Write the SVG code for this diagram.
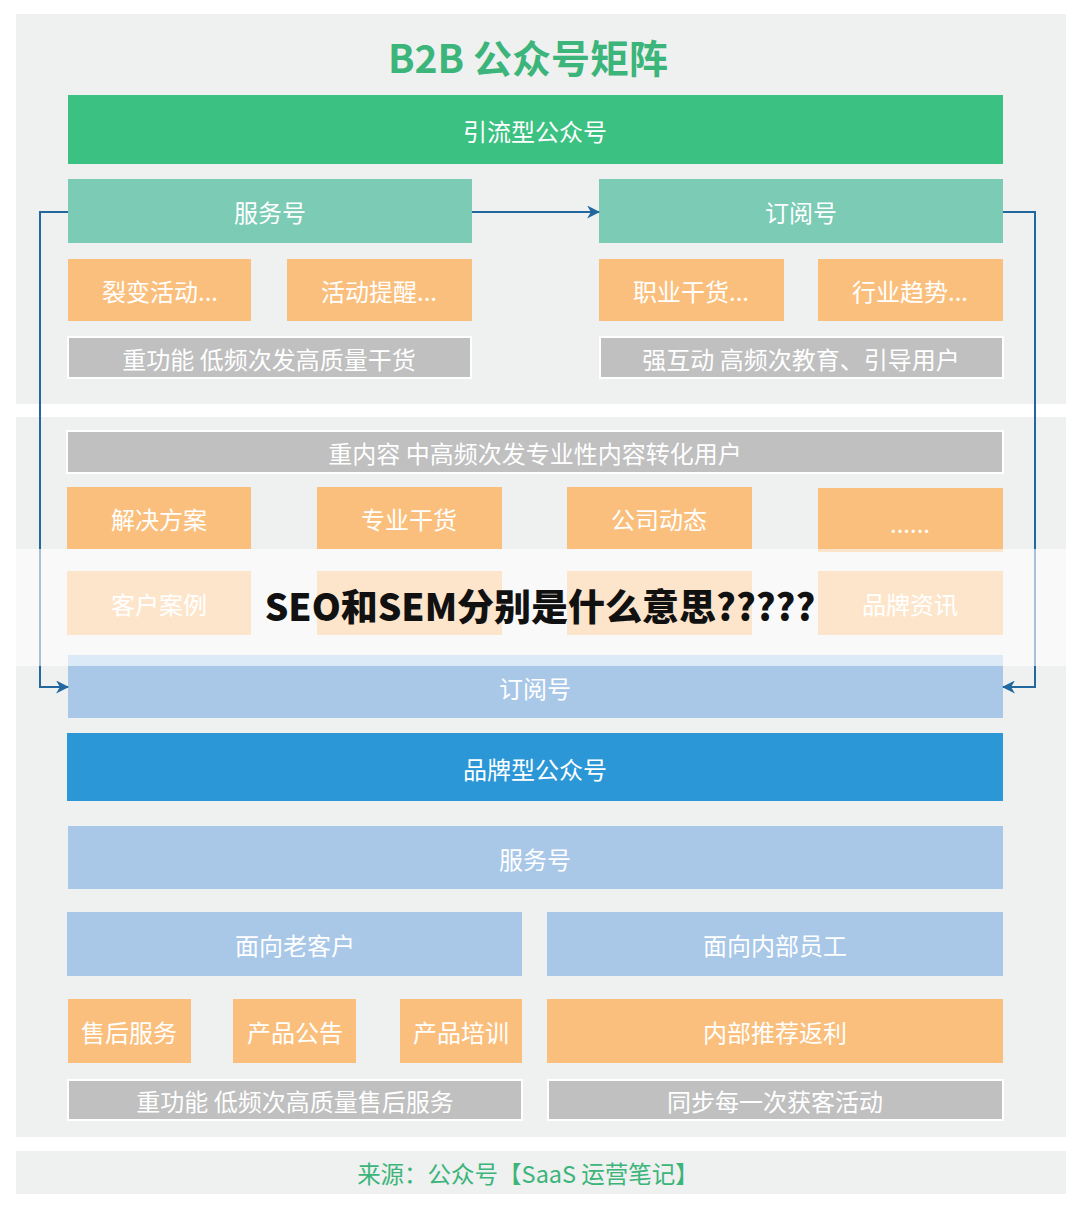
<svg xmlns="http://www.w3.org/2000/svg" width="1080" height="1215" viewBox="0 0 1080 1215">
<defs>
<marker id="arr" viewBox="0 0 12 12" refX="11" refY="6" markerWidth="13" markerHeight="13" markerUnits="userSpaceOnUse" orient="auto">
<path d="M0,0 L12,6 L0,12 L3.5,6 Z" fill="#23679f"/>
</marker>
<style>
text{font-family:"Noto Sans CJK SC","Noto Sans",sans-serif;text-anchor:middle;dominant-baseline:central}
.lbl{fill:#ffffff;font-size:24px}
.green{fill:#3bc182}
.teal{fill:#7bcbb5}
.orange{fill:#fbbf7d}
.gray{fill:#c0c0c0;stroke:#ffffff;stroke-width:2}
.lblue{fill:#a9c8e8}
.blue{fill:#2b97d6}
.panel{fill:#eff0f0}
.conn{fill:none;stroke:#23679f;stroke-width:2}
</style>
</defs>
<rect width="1080" height="1215" fill="#ffffff"/>
<rect class="panel" x="16" y="14" width="1050" height="390"/>
<rect class="panel" x="16" y="417" width="1050" height="720"/>
<rect class="panel" x="16" y="1151" width="1050" height="43"/>
<text x="528" y="56" style="font-size:39px;font-weight:bold;fill:#3bb57a">B2B 公众号矩阵</text>

<g id="n-yinliu"><rect class="green" x="68" y="95" width="935" height="69"/><text class="lbl" x="535" y="130">引流型公众号</text></g>
<g id="n-fuwu1"><rect class="teal" x="68" y="179" width="404" height="64"/><text class="lbl" x="270" y="211">服务号</text></g>
<g id="n-dingyue1"><rect class="teal" x="599" y="179" width="404" height="64"/><text class="lbl" x="801" y="211">订阅号</text></g>
<g id="n-liebian"><rect class="orange" x="68" y="259" width="183" height="62"/><text class="lbl" x="160" y="290">裂变活动...</text></g>
<g id="n-tixing"><rect class="orange" x="287" y="259" width="185" height="62"/><text class="lbl" x="379" y="290">活动提醒...</text></g>
<g id="n-zhiye"><rect class="orange" x="599" y="259" width="185" height="62"/><text class="lbl" x="691" y="290">职业干货...</text></g>
<g id="n-hangye"><rect class="orange" x="818" y="259" width="185" height="62"/><text class="lbl" x="910" y="290">行业趋势...</text></g>
<g id="n-g1"><rect class="gray" x="68" y="337" width="403" height="41"/><text class="lbl" x="269" y="358">重功能 低频次发高质量干货</text></g>
<g id="n-g2"><rect class="gray" x="600" y="337" width="403" height="41"/><text class="lbl" x="801" y="358">强互动 高频次教育、引导用户</text></g>

<g id="n-g3"><rect class="gray" x="67" y="431" width="936" height="42"/><text class="lbl" x="535" y="452">重内容 中高频次发专业性内容转化用户</text></g>
<g id="n-jiejue"><rect class="orange" x="67" y="487" width="184" height="62"/><text class="lbl" x="159" y="518">解决方案</text></g>
<g id="n-zhuanye"><rect class="orange" x="317" y="487" width="185" height="62"/><text class="lbl" x="409" y="518">专业干货</text></g>
<g id="n-gongsi"><rect class="orange" x="567" y="487" width="185" height="62"/><text class="lbl" x="659" y="518">公司动态</text></g>
<g id="n-more"><rect class="orange" x="818" y="488" width="185" height="64"/><text class="lbl" x="910" y="522">......</text></g>
<g id="n-kehu"><rect class="orange" x="67" y="571" width="184" height="64"/><text class="lbl" x="159" y="603">客户案例</text></g>
<g id="n-r2b"><rect class="orange" x="317" y="571" width="185" height="64"/></g>
<g id="n-r2c"><rect class="orange" x="567" y="571" width="185" height="64"/></g>
<g id="n-pinpaizx"><rect class="orange" x="818" y="571" width="185" height="64"/><text class="lbl" x="910" y="603">品牌资讯</text></g>
<g id="n-dingyue2"><rect class="lblue" x="68" y="655" width="935" height="63"/><text class="lbl" x="535" y="687">订阅号</text></g>

<g id="connectors">
<path class="conn" d="M472,212 H599" marker-end="url(#arr)"/>
<path class="conn" d="M68,212 H40 V687 H68" marker-end="url(#arr)"/>
<path class="conn" d="M1003,212 H1035 V687 H1003" marker-end="url(#arr)"/>
</g>

<rect x="16" y="549" width="1050" height="117" fill="#ffffff" fill-opacity="0.6"/>
<text x="540" y="605" style="font-size:37px;font-weight:900;fill:#111111">SEO和SEM分别是什么意思?????</text>

<g id="n-pinpai"><rect class="blue" x="67" y="733" width="936" height="68"/><text class="lbl" x="535" y="768">品牌型公众号</text></g>
<g id="n-fuwu2"><rect class="lblue" x="68" y="826" width="935" height="63"/><text class="lbl" x="535" y="858">服务号</text></g>
<g id="n-laokehu"><rect class="lblue" x="67" y="912" width="455" height="64"/><text class="lbl" x="295" y="944">面向老客户</text></g>
<g id="n-neibu"><rect class="lblue" x="547" y="912" width="456" height="64"/><text class="lbl" x="775" y="944">面向内部员工</text></g>
<g id="n-shouhou"><rect class="orange" x="68" y="999" width="123" height="64"/><text class="lbl" x="129" y="1031">售后服务</text></g>
<g id="n-gonggao"><rect class="orange" x="233" y="999" width="123" height="64"/><text class="lbl" x="295" y="1031">产品公告</text></g>
<g id="n-peixun"><rect class="orange" x="400" y="999" width="122" height="64"/><text class="lbl" x="461" y="1031">产品培训</text></g>
<g id="n-fanli"><rect class="orange" x="547" y="999" width="456" height="64"/><text class="lbl" x="775" y="1031">内部推荐返利</text></g>
<g id="n-g4"><rect class="gray" x="68" y="1080" width="454" height="40"/><text class="lbl" x="295" y="1100">重功能 低频次高质量售后服务</text></g>
<g id="n-g5"><rect class="gray" x="548" y="1080" width="455" height="40"/><text class="lbl" x="775" y="1100">同步每一次获客活动</text></g>

<text x="528" y="1173" style="font-size:23.5px;fill:#3bb57a">来源：公众号【SaaS 运营笔记】</text>
</svg>
